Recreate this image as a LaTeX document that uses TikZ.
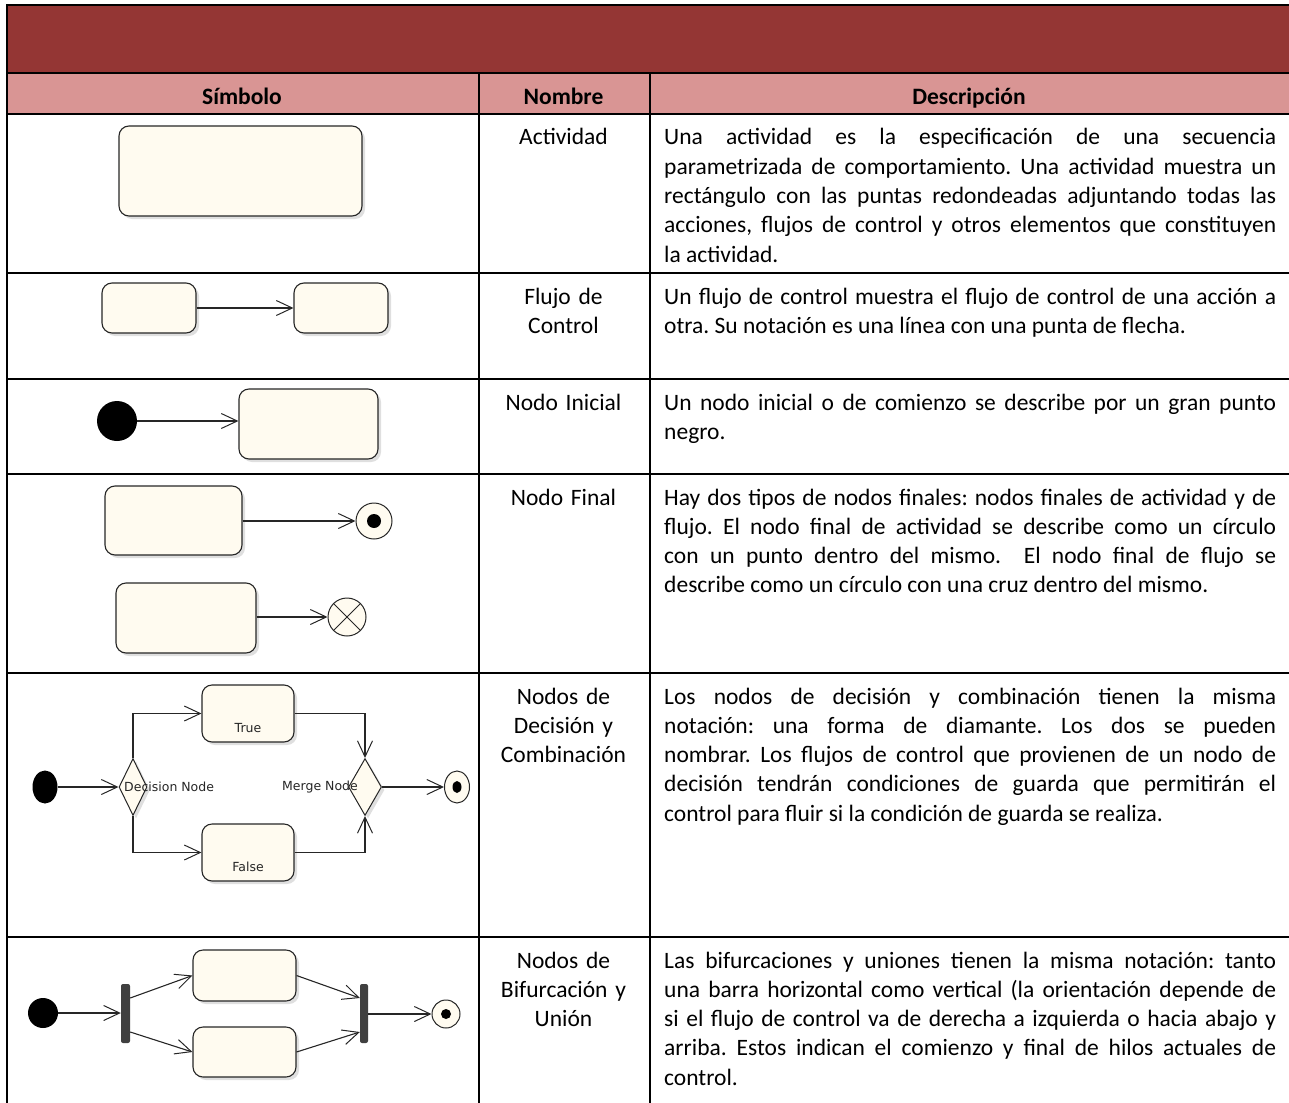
\documentclass[tikz,border=0pt]{standalone}
\usepackage{fontspec}
\usepackage{graphicx}
\setmainfont{Carlito}
\newfontfamily\umlfont{DejaVu Sans}
\usetikzlibrary{arrows.meta,shapes.geometric,shadows}
\frenchspacing

\definecolor{headdark}{HTML}{943634}
\definecolor{headpink}{HTML}{D99594}
\definecolor{cream}{HTML}{FFFBF0}
\definecolor{barfill}{HTML}{404040}

% one justified line of a description cell
\newcommand\jrow[1]{\hbox to 612pt{#1}}

\tikzset{
  tablerule/.style={line width=2pt, black},
  cellbody/.style={font=\fontsize{23.5}{29.3}\selectfont, inner sep=0pt, text=black},
  desccell/.style={cellbody, anchor=base west},
  namecell/.style={cellbody, text width=165pt, align=center, anchor=base},
  headcell/.style={inner sep=0pt, font=\fontsize{23.5}{29.3}\selectfont\bfseries, anchor=base},
  act/.style={draw=black!85, line width=1.1pt, fill=cream, rounded corners=10pt,
    inner sep=0pt, drop shadow={shadow xshift=3pt, shadow yshift=-3pt, fill=black!25}},
  decide/.style={diamond, draw=black!85, line width=1pt, fill=cream, inner sep=0pt,
    drop shadow={shadow xshift=3pt, shadow yshift=-3pt, fill=black!25}},
  flow/.style={line width=1.1pt, black!85, -{Straight Barb[length=16pt,width=15pt,line width=1pt]}},
  startnode/.style={circle, fill=black, inner sep=0pt},
  startel/.style={ellipse, fill=black, inner sep=0pt},
  endnode/.style={circle, draw=black!85, line width=1pt, fill=cream, inner sep=0pt},
  endel/.style={ellipse, draw=black!85, line width=1pt, fill=cream, inner sep=0pt},
  syncbar/.style={rectangle, fill=barfill, rounded corners=2pt, inner sep=0pt},
  umllabel/.style={inner sep=0pt, font=\umlfont\fontsize{12.5}{14}\selectfont, text=black!85},
}

\begin{document}
\begin{tikzpicture}[x=1pt,y=-1pt]
\useasboundingbox (0,0) rectangle (1289,1102);
\clip (0,0) rectangle (1289,1102);

% title band and column header band
\fill[headdark] (7,5) rectangle (1300,73);
\fill[headpink] (7,73) rectangle (1300,114);

% table rules
\draw[tablerule, line join=miter] (1300,5) -- (7,5) -- (7,1110);
\foreach \yy in {73,114,273,379,474,673,937} \draw[tablerule] (7,\yy) -- (1300,\yy);
\foreach \xx in {478.5,649.5} \draw[tablerule] (\xx,73) -- (\xx,1110);

% column headers
\node[headcell] (hsym)  at (242,105)   {Símbolo};
\node[headcell] (hname) at (563.5,105) {Nombre};
\node[headcell] (hdesc) at (969,105)   {Descripción};

% ---------- Actividad ----------
\node[act, minimum width=243pt, minimum height=90pt] (a1) at (240.5,171) {};
\node[namecell] (n1) at (563.5,145) {Actividad};
\node[desccell] (d1) at (664,145) {\vtop{%
  \jrow{Una actividad es la especificación de una secuencia}
  \jrow{parametrizada de comportamiento. Una actividad muestra un}
  \jrow{rectángulo con las puntas redondeadas adjuntando todas las}
  \jrow{acciones, flujos de control y otros elementos que constituyen}
  \hbox{la actividad.}}};

% ---------- Flujo de Control ----------
\node[act, minimum width=94pt, minimum height=50pt] (f1) at (149,308) {};
\node[act, minimum width=94pt, minimum height=50pt] (f2) at (341,308) {};
\draw[flow] (f1) -- (f2);
\node[namecell] (n2) at (563.5,304) {Flujo de\\Control};
\node[desccell] (d2) at (664,304) {\vtop{%
  \jrow{Un flujo de control muestra el flujo de control de una acción a}
  \hbox{otra. Su notación es una línea con una punta de flecha.}}};

% ---------- Nodo Inicial ----------
\node[startnode, minimum size=40pt] (i3) at (117,421) {};
\node[act, minimum width=139pt, minimum height=70pt] (b3) at (308.5,424) {};
\draw[flow] (i3) -- (i3 -| b3.west);
\node[namecell] (n3) at (563.5,410) {Nodo Inicial};
\node[desccell] (d3) at (664,410) {\vtop{%
  \jrow{Un nodo inicial o de comienzo se describe por un gran punto}
  \hbox{negro.}}};

% ---------- Nodo Final ----------
\node[act, minimum width=137pt, minimum height=69pt] (b4a) at (173.5,520.5) {};
\node[endnode, minimum size=36pt] (e4a) at (374,521) {};
\fill (e4a.center) circle (7pt);
\draw[flow] (b4a.east |- e4a) -- (e4a);
\node[act, minimum width=140pt, minimum height=70pt] (b4b) at (186,618) {};
\node[endnode, minimum size=38pt] (e4b) at (347,617) {};
\draw[line width=1pt, black!85] (e4b.45) -- (e4b.225) (e4b.135) -- (e4b.315);
\draw[flow] (b4b.east |- e4b) -- (e4b);
\node[namecell] (n4) at (563.5,505) {Nodo Final};
\node[desccell] (d4) at (664,505) {\vtop{%
  \jrow{Hay dos tipos de nodos finales: nodos finales de actividad y de}
  \jrow{flujo. El nodo final de actividad se describe como un círculo}
  \jrow{con un punto dentro del mismo.\ \ El nodo final de flujo se}
  \hbox{describe como un círculo con una cruz dentro del mismo.}}};

% ---------- Nodos de Decisión y Combinación ----------
\node[startel, minimum width=25pt, minimum height=33pt] (i5) at (45,787) {};
\node[decide, minimum width=28pt, minimum height=57pt] (dec) at (133,787) {};
\node[act, minimum width=92pt, minimum height=57pt] (tb) at (248,713.5) {};
\node[act, minimum width=92pt, minimum height=57pt] (fb) at (248,852.5) {};
\node[decide, minimum width=33pt, minimum height=57pt] (mer) at (365,787) {};
\node[endel, minimum width=25pt, minimum height=32pt] (e5) at (457,787) {};
\fill (e5.center) ellipse [x radius=4.5pt, y radius=6pt];
\draw[flow] (i5) -- (dec);
\draw[flow] (dec.north) |- (tb.west);
\draw[flow] (dec.south) |- (fb.west);
\draw[flow] (tb.east) -| (mer.north);
\draw[flow] (fb.east) -| (mer.south);
\draw[flow] (mer) -- (e5);
\node[umllabel] (ltrue)  at (248,728) {True};
\node[umllabel] (lfalse) at (248,867) {False};
\node[umllabel, anchor=west] (ldec) at (124,787) {Decision Node};
\node[umllabel, anchor=east] (lmer) at (358,787) {Merge Node};
\node[namecell] (n5) at (563.5,704) {Nodos de\\Decisión y\\Combinación};
\node[desccell] (d5) at (664,704) {\vtop{%
  \jrow{Los nodos de decisión y combinación tienen la misma}
  \jrow{notación: una forma de diamante. Los dos se pueden}
  \jrow{nombrar. Los flujos de control que provienen de un nodo de}
  \jrow{decisión tendrán condiciones de guarda que permitirán el}
  \hbox{control para fluir si la condición de guarda se realiza.}}};

% ---------- Nodos de Bifurcación y Unión ----------
\node[startnode, minimum size=30pt] (i6) at (43,1013) {};
\node[syncbar, minimum width=9pt, minimum height=59pt] (fork) at (125.5,1013.5) {};
\node[act, minimum width=103pt, minimum height=51pt] (ub) at (244.5,975.5) {};
\node[act, minimum width=103pt, minimum height=50pt] (lb) at (244.5,1052) {};
\node[syncbar, minimum width=8pt, minimum height=59pt] (join) at (364,1013.5) {};
\node[endnode, minimum size=28pt] (e6) at (446,1014) {};
\fill (e6.center) circle (5pt);
\draw[flow] (i6) -- (i6 -| fork.west);
\draw[flow] ([yshift=15.5pt]fork.east) -- (ub.west);
\draw[flow] ([yshift=-18.5pt]fork.east) -- (lb.west);
\draw[flow] (ub.east) -- ([yshift=15.5pt]join.west);
\draw[flow] (lb.east) -- ([yshift=-18.5pt]join.west);
\draw[flow] (join.east |- e6) -- (e6);
\node[namecell] (n6) at (563.5,968) {Nodos de\\Bifurcación y\\Unión};
\node[desccell] (d6) at (664,968) {\vtop{%
  \jrow{Las bifurcaciones y uniones tienen la misma notación: tanto}
  \jrow{una barra horizontal como vertical (la orientación depende de}
  \jrow{si el flujo de control va de derecha a izquierda o hacia abajo y}
  \jrow{arriba. Estos indican el comienzo y final de hilos actuales de}
  \hbox{control.}}};
\end{tikzpicture}
\end{document}
